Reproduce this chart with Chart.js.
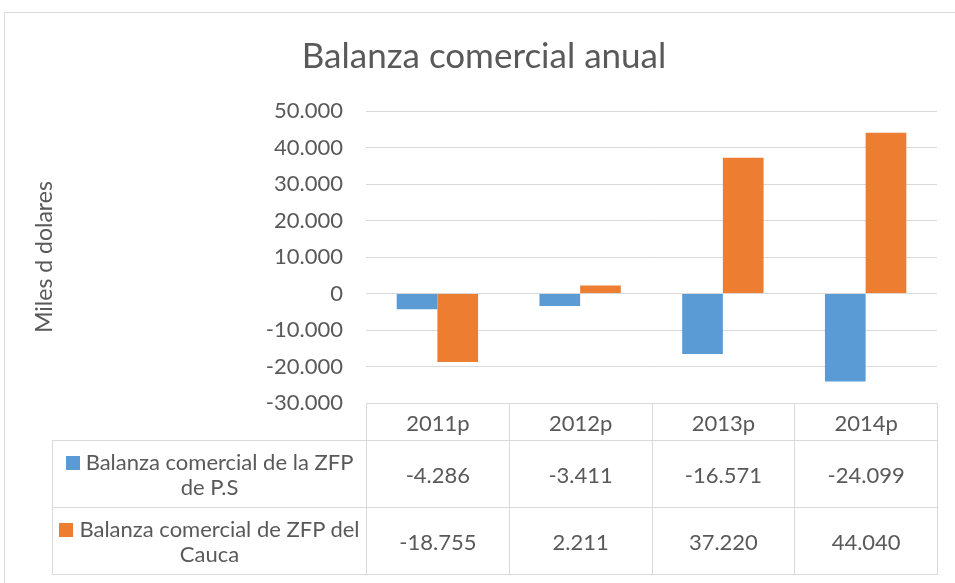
<!DOCTYPE html>
<html>
<head>
<meta charset="utf-8">
<script src="https://cdn.jsdelivr.net/npm/chart.js@4.4.1/dist/chart.umd.min.js"></script>
<style>
  html, body { margin: 0; padding: 0; background: #ffffff; overflow: hidden; }
  #wrap { position: relative; width: 955px; height: 583px; overflow: hidden; }
  #frame { position: absolute; left: 4px; top: 12px; width: 1000px; height: 1000px; border: 1px solid #d9d9d9; box-sizing: border-box; }
  #c { position: absolute; left: 0; top: 0; }
  #tbl { position: absolute; border-collapse: collapse; font-family: Lato, "Open Sans", sans-serif; font-size: 22px; color: #595959; table-layout: fixed; }
  #tbl td { border: 1px solid #d9d9d9; text-align: center; vertical-align: middle; padding: 0; line-height: 25px; }
  #tbl td.blank { border-top: none; border-left: none; }
  #tbl td.lab { padding: 0 2px; }
  .key { display: inline-block; width: 14px; height: 14px; margin-right: 6px; vertical-align: 0px; }
</style>
</head>
<body>
<div id="wrap">
  <div id="frame"></div>
  <canvas id="c" width="970" height="583"></canvas>
  <table id="tbl"></table>
</div>
<script>
const chartTitle = 'Balanza comercial anual';
const yAxisTitle = 'Miles d dolares';
const categories = ['2011p', '2012p', '2013p', '2014p'];
const seriesNames = ['Balanza comercial de la ZFP de P.S', 'Balanza comercial de ZFP del Cauca'];
const psValues = [-4286, -3411, -16571, -24099];
const caucaValues = [-18755, 2211, 37220, 44040];
const seriesColors = ['#5B9BD5', '#ED7D31'];
const yMin = -30000, yMax = 50000, yStep = 10000;

function fmt(v) {
  const neg = v < 0;
  let s = String(Math.abs(v));
  let out = '';
  while (s.length > 3) { out = '.' + s.slice(-3) + out; s = s.slice(0, -3); }
  out = s + out;
  return (neg ? '-' : '') + out;
}

const FONT = 'Lato, "Open Sans", sans-serif';
const TXT = '#595959';

const chart = new Chart(document.getElementById('c'), {
  type: 'bar',
  data: {
    labels: categories,
    datasets: [
      { label: seriesNames[0], data: psValues, backgroundColor: seriesColors[0], borderWidth: 0 },
      { label: seriesNames[1], data: caucaValues, backgroundColor: seriesColors[1], borderWidth: 0 }
    ]
  },
  options: {
    responsive: false,
    animation: false,
    devicePixelRatio: 1,
    layout: { padding: { left: 31, right: 33, top: 0, bottom: 180 } },
    datasets: { bar: { categoryPercentage: 0.57, barPercentage: 1.0 } },
    plugins: {
      legend: { display: false },
      tooltip: { enabled: false },
      title: {
        display: true,
        text: chartTitle,
        color: TXT,
        font: { family: FONT, size: 35, weight: 'normal' },
        padding: { top: 36, bottom: 33 }
      }
    },
    scales: {
      x: { display: false, offset: true },
      y: {
        min: yMin, max: yMax,
        afterFit: s => { s.width = 366 - 31; },
        ticks: { stepSize: yStep, color: TXT, font: { family: FONT, size: 22 }, padding: 23, callback: v => fmt(v) },
        grid: { color: '#d9d9d9', lineWidth: 1, drawTicks: false },
        border: { display: false },
        title: { display: true, text: yAxisTitle, color: TXT, font: { family: FONT, size: 23, weight: 'normal' }, padding: { top: 0, bottom: 0 } }
      }
    }
  }
});

// Data table aligned to the chart's x scale
const area = chart.chartArea;
const colW = (area.right - area.left) / categories.length;
const labW = 314;
const tbl = document.getElementById('tbl');
tbl.style.left = (area.left - labW) + 'px';
tbl.style.top = area.bottom + 'px';
tbl.style.width = (labW + colW * categories.length) + 'px';
let html = '<colgroup><col style="width:' + labW + 'px">';
categories.forEach(() => { html += '<col style="width:' + colW + 'px">'; });
html += '</colgroup>';
html += '<tr style="height:37px"><td class="blank"></td>' + categories.map(c => '<td>' + c + '</td>').join('') + '</tr>';
const rows = [psValues, caucaValues];
rows.forEach((vals, i) => {
  html += '<tr style="height:67px"><td class="lab"><span class="key" style="background:' + seriesColors[i] + '"></span>' + seriesNames[i] + '</td>' +
    vals.map(v => '<td>' + fmt(v) + '</td>').join('') + '</tr>';
});
tbl.innerHTML = html;
</script>
</body>
</html>
